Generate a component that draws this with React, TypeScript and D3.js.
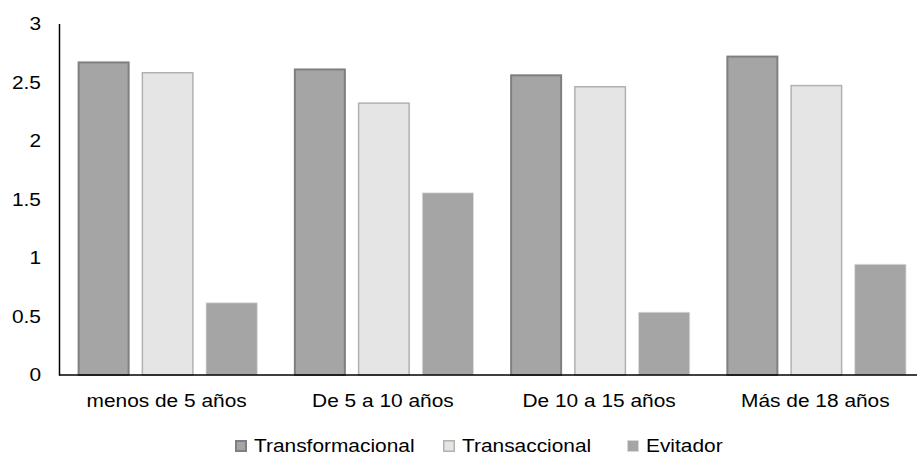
import React, { useEffect, useRef } from "react";
import * as d3 from "d3";

const categories = ["menos de 5 años", "De 5 a 10 años", "De 10 a 15 años", "Más de 18 años"];
const seriesNames = ["Transformacional", "Transaccional", "Evitador"];
const transformacional = [2.68, 2.62, 2.57, 2.73];
const transaccional = [2.59, 2.33, 2.47, 2.48];
const evitador = [0.62, 1.56, 0.54, 0.95];
const yTicks = [0, 0.5, 1, 1.5, 2, 2.5, 3];

const W = 917;
const H = 456;
const FONT = "'Liberation Sans', Arial, sans-serif";
const STRETCH = 1.13;

const styles: Record<string, { fill: string; stroke: string; sw: number }> = {
  Transformacional: { fill: "#a5a5a5", stroke: "#7f7f7f", sw: 2 },
  Transaccional: { fill: "#e5e5e5", stroke: "#b3b0b0", sw: 1.5 },
  Evitador: { fill: "#a5a5a5", stroke: "#dedede", sw: 0.75 },
};

export default function App() {
  const ref = useRef<SVGSVGElement | null>(null);

  useEffect(() => {
    const svg = d3.select(ref.current);
    svg.selectAll("*").remove();

    const values: Record<string, number[]> = {
      Transformacional: transformacional,
      Transaccional: transaccional,
      Evitador: evitador,
    };

    const x0 = d3.scaleBand<string>().domain(categories).range([59.5, 924.5]);
    const x1 = d3
      .scaleBand<string>()
      .domain(seriesNames)
      .range([0, x0.bandwidth()])
      .paddingInner(0.1875)
      .paddingOuter(0.283);
    const y = d3.scaleLinear().domain([0, 3]).range([375, 24]);

    // bars
    const groups = svg
      .append("g")
      .selectAll("g")
      .data(categories)
      .join("g")
      .attr("transform", (c) => `translate(${x0(c)},0)`);

    groups
      .selectAll("rect")
      .data((c, i) => seriesNames.map((s) => ({ s, v: values[s][i] })))
      .join("rect")
      .attr("x", (d) => x1(d.s)! + styles[d.s].sw / 2)
      .attr("width", (d) => x1.bandwidth() - styles[d.s].sw)
      .attr("y", (d) => y(d.v) + styles[d.s].sw / 2)
      .attr("height", (d) => y(0) - y(d.v) - styles[d.s].sw / 2)
      .attr("fill", (d) => styles[d.s].fill)
      .attr("stroke", (d) => styles[d.s].stroke)
      .attr("stroke-width", (d) => styles[d.s].sw);

    // axis lines
    svg
      .append("line")
      .attr("x1", 59.5)
      .attr("x2", W)
      .attr("y1", y(0))
      .attr("y2", y(0))
      .attr("stroke", "#000")
      .attr("stroke-width", 1.5);
    svg
      .append("line")
      .attr("x1", 59.5)
      .attr("x2", 59.5)
      .attr("y1", y(3))
      .attr("y2", y(0) + 0.75)
      .attr("stroke", "#000")
      .attr("stroke-width", 1.5);

    // y tick labels
    svg
      .append("g")
      .selectAll("text")
      .data(yTicks)
      .join("text")
      .attr("transform", (t) => `translate(41,${y(t)}) scale(${STRETCH},1)`)
      .attr("text-anchor", "end")
      .attr("dy", "0.35em")
      .attr("font-family", FONT)
      .attr("font-size", 18.5)
      .attr("fill", "#000")
      .text((t) => String(t));

    // x category labels
    svg
      .append("g")
      .selectAll("text")
      .data(categories)
      .join("text")
      .attr("transform", (c) => `translate(${x0(c)! + x0.bandwidth() / 2 - 1},407) scale(${STRETCH},1)`)
      .attr("text-anchor", "middle")
      .attr("font-family", FONT)
      .attr("font-size", 18.5)
      .attr("fill", "#000")
      .text((c) => c);

    // legend
    const legendX = [235, 443, 627];
    const lg = svg
      .append("g")
      .selectAll("g")
      .data(seriesNames)
      .join("g")
      .attr("transform", (s, i) => `translate(${legendX[i]},0)`);
    lg.append("rect")
      .attr("x", (s) => styles[s].sw / 2)
      .attr("y", (s) => 440 + styles[s].sw / 2)
      .attr("width", (s) => 12 - styles[s].sw)
      .attr("height", (s) => 12 - styles[s].sw)
      .attr("fill", (s) => styles[s].fill)
      .attr("stroke", (s) => styles[s].stroke)
      .attr("stroke-width", (s) => styles[s].sw);
    lg.append("text")
      .attr("transform", `translate(19,451.5) scale(${STRETCH},1)`)
      .attr("font-family", FONT)
      .attr("font-size", 18.5)
      .attr("fill", "#000")
      .text((s) => s);
  }, []);

  return (
    <svg
      ref={ref}
      width={W}
      height={H}
      style={{ position: "absolute", left: 0, top: 0, background: "#fff", display: "block" }}
    />
  );
}
